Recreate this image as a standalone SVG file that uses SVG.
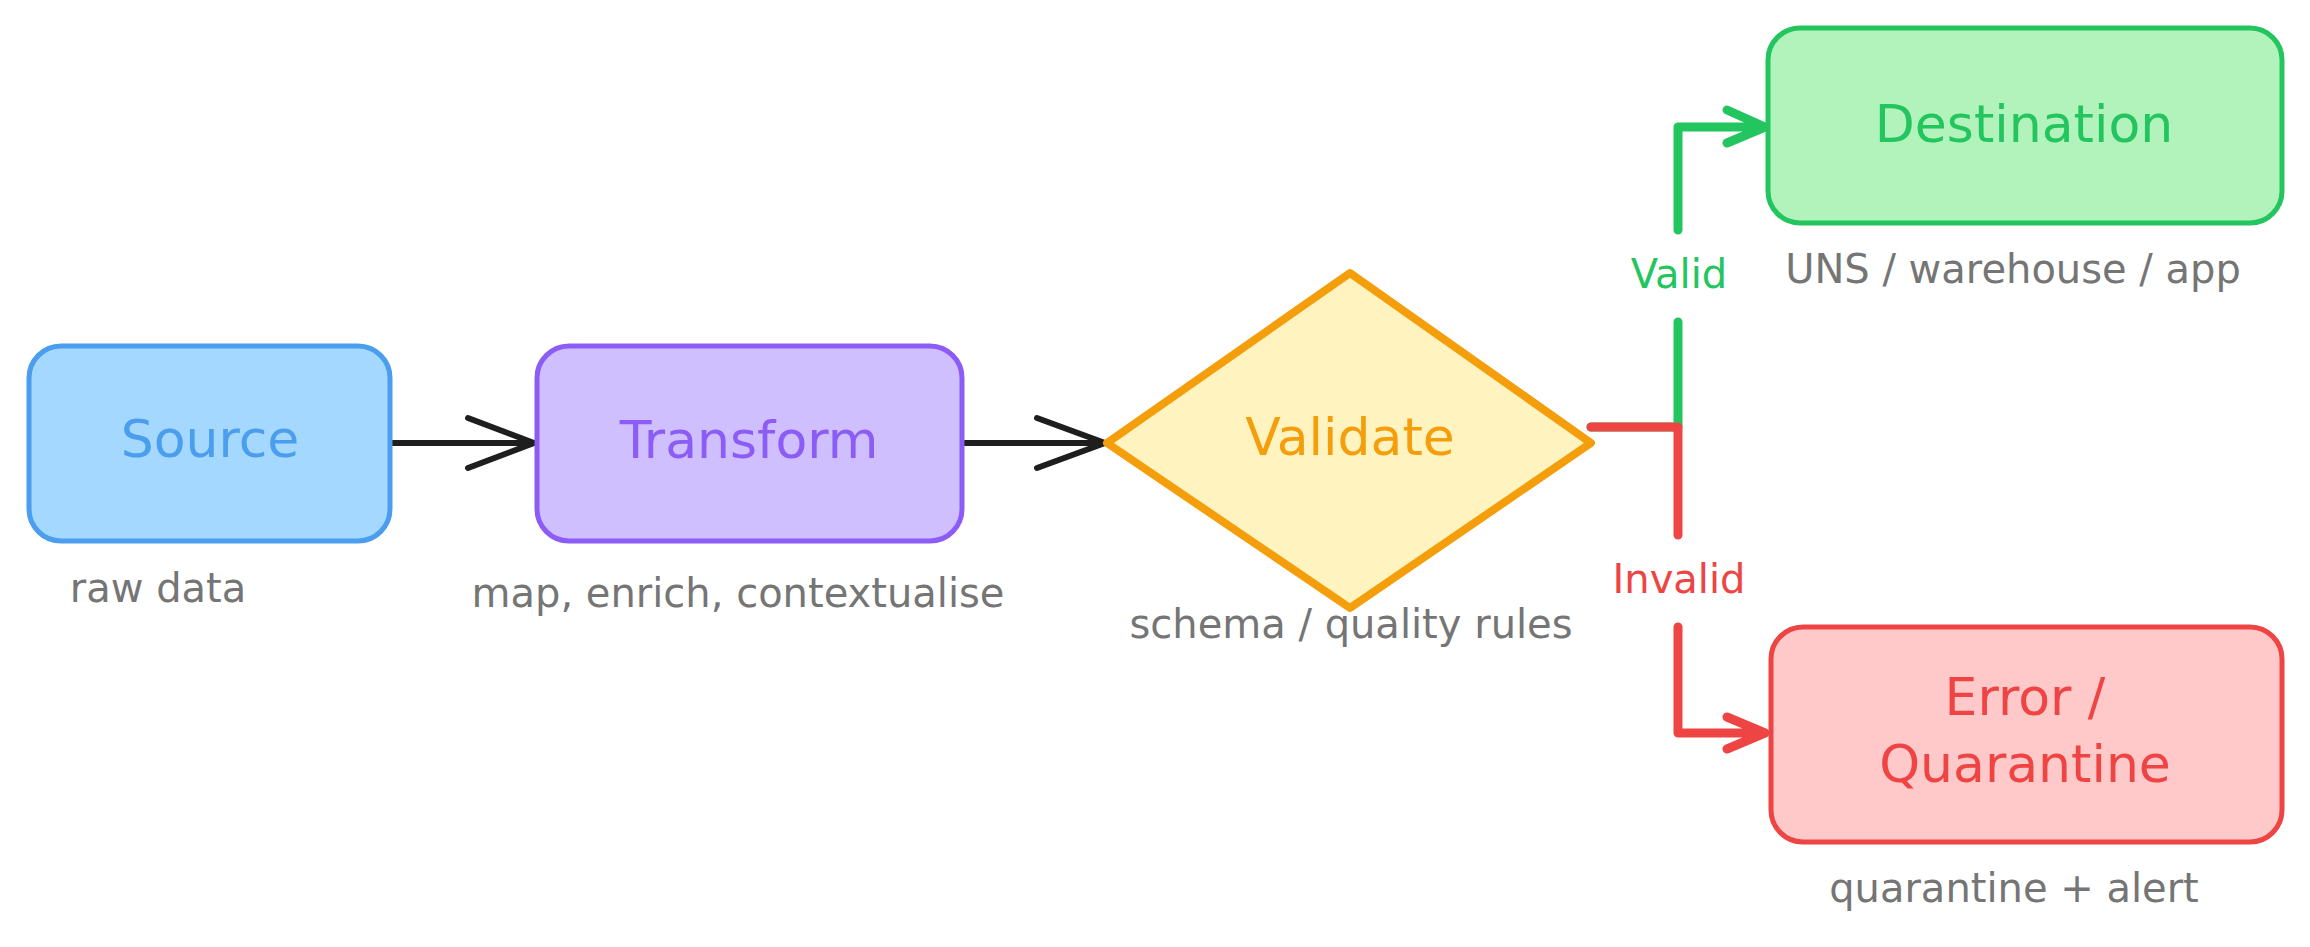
<svg xmlns="http://www.w3.org/2000/svg" width="2310" height="947" viewBox="0 0 2310 947">
<style>
text{font-family:"DejaVu Sans","Liberation Sans",sans-serif;text-anchor:middle}
.title{font-size:52px}
.note{font-size:40px;fill:#757575}
.lbl{font-size:40px}
.box{stroke-width:5;stroke-linejoin:round}
.con{fill:none;stroke-linecap:round;stroke-linejoin:round}
.blk{stroke:#1e1e1e;stroke-width:6}
.grn{stroke:#22c55e;stroke-width:9}
.red{stroke:#ef4444;stroke-width:9}
</style>
<rect width="2310" height="947" fill="#ffffff"/>
<g id="connectors">
  <path class="con blk" d="M390 443 L532 443 M468 418 L534 443 L468 468"/>
  <path class="con blk" d="M962 443 L1103 443 M1037 418 L1105 443 L1037 468"/>
  <path class="con grn" d="M1591 427 L1678 427 L1678 322 M1678 230 L1678 127 L1762 127 M1727 110 L1765 127 L1727 143"/>
  <path class="con red" d="M1591 427 L1678 427 L1678 535 M1678 627 L1678 733 L1762 733 M1727 717 L1765 733 L1727 749"/>
  <text class="lbl" x="1679" y="288" fill="#22c55e">Valid</text>
  <text class="lbl" x="1679" y="593" fill="#ef4444">Invalid</text>
</g>
<g id="source">
  <rect class="box" x="29" y="346" width="361" height="195" rx="32" fill="#a5d8ff" stroke="#4a9eed"/>
  <text class="title" x="210" y="457" fill="#4a9eed">Source</text>
  <text class="note" x="158" y="602">raw data</text>
</g>
<g id="transform">
  <rect class="box" x="537" y="346" width="425" height="195" rx="32" fill="#d0bfff" stroke="#8b5cf6"/>
  <text class="title" x="749" y="458" fill="#8b5cf6">Transform</text>
  <text class="note" x="738" y="607">map, enrich, contextualise</text>
</g>
<g id="validate">
  <path d="M1107 443 L1350 273 L1591 443 L1350 608 Z" fill="#fff3bf" stroke="#f59e0b" stroke-width="8" stroke-linejoin="round"/>
  <text class="title" x="1350" y="455" fill="#f59e0b">Validate</text>
  <text class="note" x="1351" y="638">schema / quality rules</text>
</g>
<g id="destination">
  <rect class="box" x="1768" y="28" width="514" height="195" rx="32" fill="#b2f2bb" stroke="#22c55e"/>
  <text class="title" x="2024" y="142" fill="#22c55e">Destination</text>
  <text class="note" x="2013" y="283">UNS / warehouse / app</text>
</g>
<g id="error">
  <rect class="box" x="1771" y="627" width="511" height="215" rx="32" fill="#ffc9c9" stroke="#ef4444"/>
  <text class="title" x="2025" y="715" fill="#ef4444">Error /</text>
  <text class="title" x="2025" y="782" fill="#ef4444">Quarantine</text>
  <text class="note" x="2014" y="902">quarantine + alert</text>
</g>
</svg>
